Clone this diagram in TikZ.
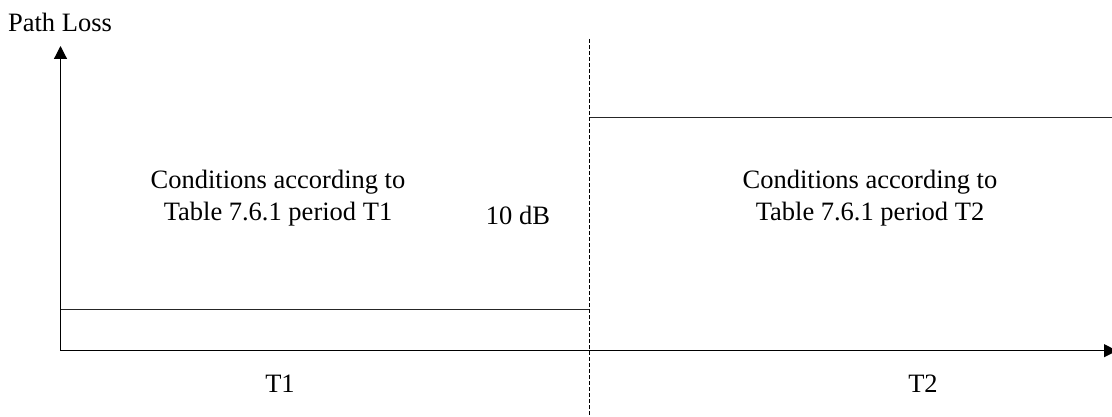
\documentclass[tikz,border=0pt]{standalone}
\usepackage{fontspec}
\setmainfont{Liberation Serif}
\usetikzlibrary{arrows.meta}
\begin{document}
\begin{tikzpicture}[x=1pt,y=-1pt,
  lbl/.style={font=\fontsize{26.5}{32}\selectfont, inner sep=0pt, align=center, anchor=base},
  axis/.style={line width=1.2pt, draw=black, -{Triangle[length=13pt,width=13pt]}},
  level/.style={line width=1pt, draw=black!85},
  divider/.style={line width=1.2pt, draw=black, dash pattern=on 4pt off 2pt}]
\useasboundingbox (0,0) rectangle (1112,417);
\coordinate (O) at (60.5,350.7);
\coordinate (Ytip) at (60.5,46);
\coordinate (Xtip) at (1117,350.7);
\coordinate (Dtop) at (589.7,39);
\coordinate (Dbot) at (589.7,420);
\coordinate (L1a) at (60.5,309.3);
\coordinate (L1b) at (589.7,309.3);
\coordinate (L2a) at (589.7,117.7);
\coordinate (L2b) at (1115,117.7);
\draw[level] (L1a) -- (L1b);
\draw[level] (L2a) -- (L2b);
\draw[axis] (O) -- (Ytip);
\draw[axis] (O) -- (Xtip);
\draw[divider] (Dtop) -- (Dbot);
\node[lbl] (pl) at (60,32) {Path Loss};
\node[lbl] (c1a) at (278,189) {Conditions according to};
\node[lbl] (c1b) at (278,221) {Table 7.6.1 period T1};
\node[lbl] (db) at (518,225) {10 dB};
\node[lbl] (c2a) at (870,189) {Conditions according to};
\node[lbl] (c2b) at (870,221) {Table 7.6.1 period T2};
\node[lbl] (t1) at (280,392) {T1};
\node[lbl] (t2) at (923,392) {T2};
\end{tikzpicture}
\end{document}
